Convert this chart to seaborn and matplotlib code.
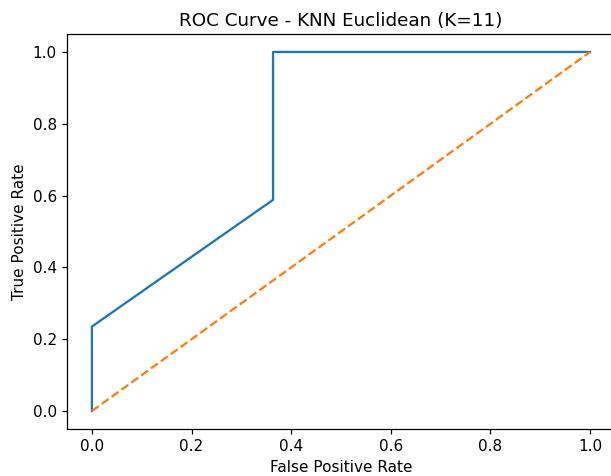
import matplotlib
matplotlib.use('Agg')
import matplotlib.pyplot as plt
import seaborn as sns
import pandas as pd

# puntos de la curva ROC
fpr = [0.0, 0.0, 0.3636, 0.3636, 1.0]
tpr = [0.0, 0.2353, 0.5882, 1.0, 1.0]
# diagonal de referencia
diag_x = [0.0, 1.0]
diag_y = [0.0, 1.0]

roc = pd.DataFrame({'fpr': fpr, 'tpr': tpr})
diag = pd.DataFrame({'x': diag_x, 'y': diag_y})

# todo un poco mas grande (la imagen original parece escalada 1.1)
s = 1.1
plt.rcParams.update({
    'font.size': 10 * s,
    'axes.titlesize': 12 * s,
    'axes.labelsize': 10 * s,
    'xtick.labelsize': 10 * s,
    'ytick.labelsize': 10 * s,
    'axes.linewidth': 0.8 * s,
    'xtick.major.size': 3.5 * s,
    'ytick.major.size': 3.5 * s,
    'xtick.major.width': 0.8 * s,
    'ytick.major.width': 0.8 * s,
    'lines.linewidth': 1.5 * s,
})

fig = plt.figure(figsize=(6.11, 4.76), dpi=100)
ax = fig.add_axes([67/611, 47/476, 548/611, 395/476])

sns.lineplot(data=roc, x='fpr', y='tpr', estimator=None, sort=False, color='C0', ax=ax)
sns.lineplot(data=diag, x='x', y='y', estimator=None, sort=False, color='C1', linestyle='--', ax=ax)

ax.set_xlim(-0.05, 1.05)
ax.set_ylim(-0.05, 1.05)
ax.set_title('ROC Curve - KNN Euclidean (K=11)')
ax.set_xlabel('False Positive Rate')
ax.set_ylabel('True Positive Rate')

fig.savefig('out.png', dpi=100)
